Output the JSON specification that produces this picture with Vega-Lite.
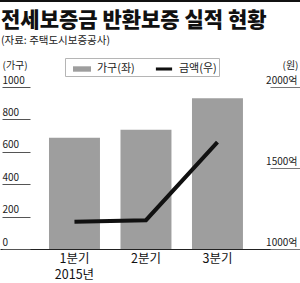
{
  "$schema": "https://vega.github.io/schema/vega-lite/v6.json",
  "width": 300,
  "height": 162,
  "autosize": {"type": "none"},
  "padding": {"left": 0, "top": 87, "right": 0, "bottom": 34},
  "background": "white",
  "config": {"view": {"stroke": null}, "font": "Noto Sans CJK KR"},
  "title": {
    "text": "전세보증금 반환보증 실적 현황",
    "subtitle": "(자료: 주택도시보증공사)",
    "anchor": "start",
    "frame": "group",
    "font": "Noto Sans CJK KR",
    "fontSize": 21,
    "fontWeight": 900,
    "color": "#111111",
    "subtitleFont": "Noto Sans CJK KR",
    "subtitleFontSize": 10.5,
    "subtitleColor": "#222222",
    "subtitlePadding": 5,
    "offset": -47,
    "dx": 1
  },
  "data": {
    "values": [
      {"q": "1분기", "hh": 687, "amt": 1168},
      {"q": "2분기", "hh": 736, "amt": 1178},
      {"q": "3분기", "hh": 930, "amt": 1660}
    ]
  },
  "layer": [
    {
      "mark": {"type": "bar"},
      "encoding": {
        "x": {
          "field": "q",
          "type": "nominal",
          "sort": null,
          "scale": {"paddingInner": 0.287, "paddingOuter": 0.7415, "align": 0.462},
          "axis": {
            "title": null,
            "ticks": false,
            "labelAngle": 0,
            "labelFontSize": 12.5,
            "labelColor": "#111111",
            "labelPadding": 3,
            "labelBaseline": "top",
            "labelLineHeight": 16,
            "labelOverlap": false,
            "labelExpr": "datum.value == '1분기' ? ['1분기', '2015년'] : datum.value",
            "domain": true,
            "domainColor": "#222222",
            "domainWidth": 1
          }
        },
        "y": {
          "field": "hh",
          "type": "quantitative",
          "scale": {"domain": [0, 1000], "nice": false},
          "axis": {
            "orient": "left",
            "offset": -30,
            "values": [0, 200, 400, 600, 800, 1000],
            "format": "d",
            "ticks": true,
            "tickSize": 28,
            "tickWidth": 1,
            "tickOpacity": 1,
            "tickColor": "#555555",
            "labelAlign": "left",
            "labelPadding": 0,
            "labelBaseline": "alphabetic",
            "labelOffset": -4,
            "labelOverlap": false,
            "labelFontSize": 10,
            "labelColor": "#222222",
            "domain": false,
            "grid": false,
            "title": "(가구)",
            "titleAngle": 0,
            "titleX": -28,
            "titleY": -22,
            "titleAlign": "left",
            "titleBaseline": "middle",
            "titleFontSize": 10,
            "titleFontWeight": "normal",
            "titleColor": "#222222"
          }
        },
        "color": {
          "datum": "가구(좌)",
          "type": "nominal",
          "scale": {"domain": ["가구(좌)", "금액(우)"], "range": ["#9e9e9e", "#111111"]},
          "legend": {
            "orient": "none",
            "legendX": 65,
            "legendY": -29,
            "direction": "horizontal",
            "title": null,
            "padding": 2,
            "strokeColor": "#b5b5b5",
            "fillColor": "white",
            "labelFontSize": 11,
            "labelColor": "#222222",
            "symbolSize": 324,
            "symbolOffset": 6,
            "columnPadding": 14,
            "labelOffset": 6,
            "encode": {
              "symbols": {
                "update": {
                  "shape": [
                    {"test": "datum.value === '금액(우)'", "value": "M-0.9,-0.17H0.9V0.17H-0.9Z"},
                    {"value": "M-1,-0.3H1V0.3H-1Z"}
                  ],
                  "fill": [
                    {"test": "datum.value === '금액(우)'", "value": "#111111"},
                    {"value": "#9e9e9e"}
                  ],
                  "stroke": {"value": "transparent"},
                  "strokeWidth": {"value": 0},
                  "opacity": {"value": 1},
                  "fillOpacity": {"value": 1}
                }
              }
            }
          }
        }
      }
    },
    {
      "mark": {"type": "line", "strokeWidth": 4, "strokeCap": "butt", "strokeJoin": "miter"},
      "encoding": {
        "x": {"field": "q", "type": "nominal", "sort": null},
        "y": {
          "field": "amt",
          "type": "quantitative",
          "scale": {"domain": [1000, 2000], "nice": false, "zero": false},
          "axis": {
            "orient": "right",
            "offset": -30,
            "values": [1000, 1500, 2000],
            "ticks": true,
            "tickSize": 30,
            "tickWidth": 1,
            "tickOpacity": 1,
            "tickColor": "#777777",
            "labelAlign": "right",
            "labelPadding": -3,
            "labelBaseline": "alphabetic",
            "labelOffset": -4,
            "labelOverlap": false,
            "labelExpr": "datum.value + '억'",
            "labelFontSize": 10,
            "labelColor": "#222222",
            "domain": false,
            "grid": false,
            "title": "(원)",
            "titleAngle": 0,
            "titleX": 28,
            "titleY": -22,
            "titleAlign": "right",
            "titleBaseline": "middle",
            "titleFontSize": 10,
            "titleFontWeight": "normal",
            "titleColor": "#222222"
          }
        },
        "color": {"datum": "금액(우)", "type": "nominal"}
      }
    },
    {
      "data": {"values": [{"top": 1531}]},
      "mark": {"type": "rule", "color": "#111111", "strokeWidth": 2},
      "encoding": {
        "y": {"field": "top", "type": "quantitative", "scale": {"domain": [0, 1000], "nice": false}, "axis": null}
      }
    }
  ],
  "resolve": {"scale": {"y": "independent"}}
}
